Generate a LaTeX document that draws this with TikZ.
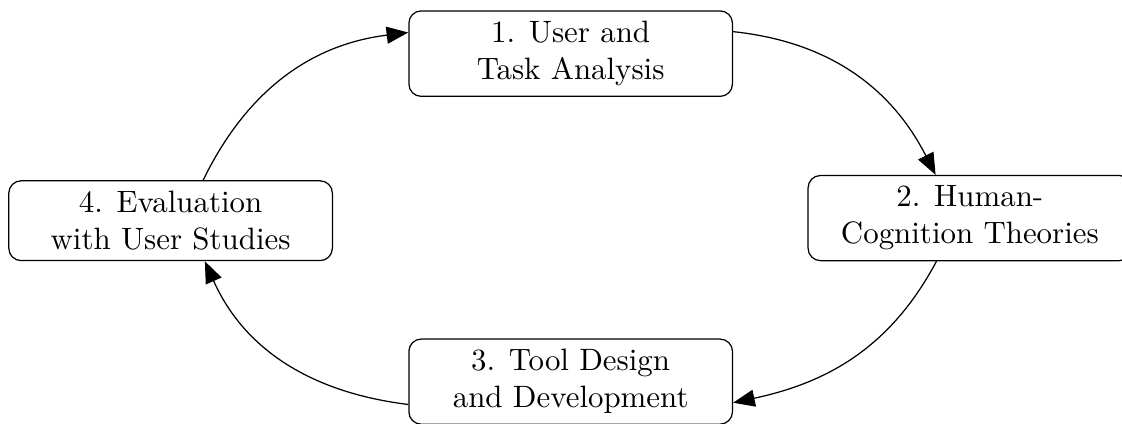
\documentclass[tikz,border=0pt]{standalone}
\usetikzlibrary{arrows.meta}

\begin{document}
\begin{tikzpicture}[
                stage/.style={draw, rounded corners, align=center, minimum width=3.68cm},
                cycle/.style={-{Triangle[length=7pt, width=5.5pt]}}
        ]
                \useasboundingbox (0, 0) rectangle (12.76, 4.82);
                \node[stage] (analysis) at (6.49, 4.21) {1. User and\\Task Analysis};
                \node[stage] (theories) at (11.03, 2.34) {2. Human-\\Cognition Theories};
                \node[stage] (design) at (6.49, 0.48) {3. Tool Design\\and Development};
                \node[stage] (evaluation) at (1.94, 2.31) {4. Evaluation\\with User Studies};
                \draw[cycle] ([xshift=0.37cm]evaluation.north) to[out=64, in=187] ([yshift=0.24cm]analysis.west);
                \draw[cycle] ([yshift=0.25cm]analysis.east) to[out=-6, in=117] ([xshift=-0.39cm]theories.north);
                \draw[cycle] ([xshift=-0.38cm]theories.south) to[out=242, in=12] ([yshift=-0.24cm]design.east);
                \draw[cycle] ([yshift=-0.26cm]design.west) to[out=173, in=294] ([xshift=0.39cm]evaluation.south);
        \end{tikzpicture}
\end{document}
